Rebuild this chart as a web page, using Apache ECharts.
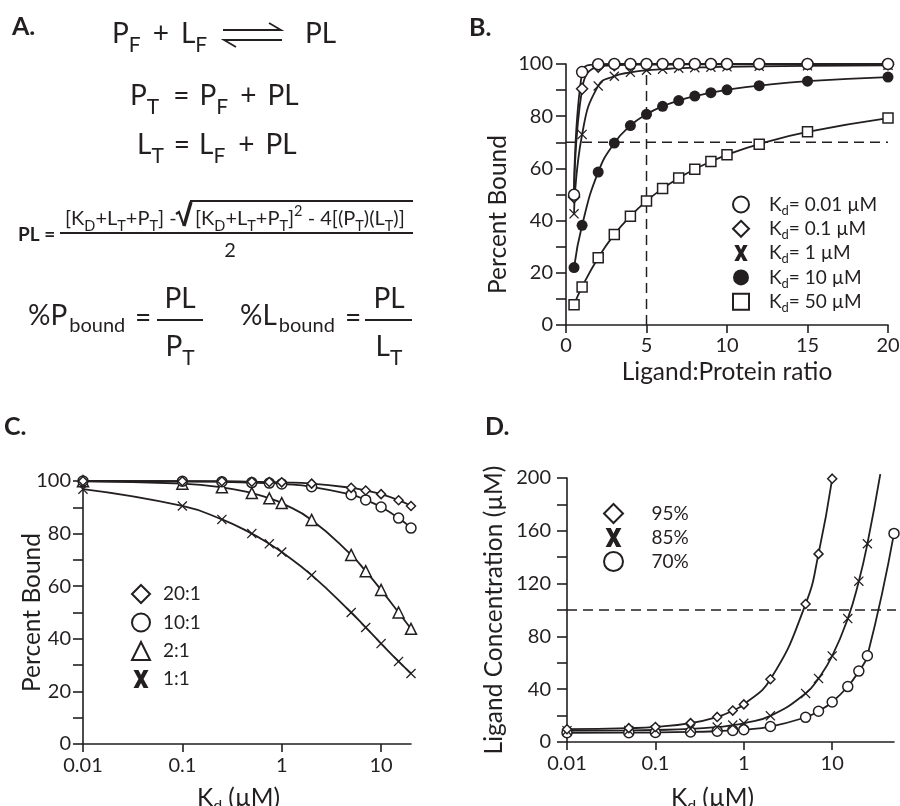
<!DOCTYPE html>
<html>
<head>
<meta charset="utf-8">
<script src="https://cdn.jsdelivr.net/npm/echarts@6/dist/echarts.min.js"></script>
<style>
  html, body { margin: 0; padding: 0; background: #fff; }
  #main { width: 900px; height: 806px; }
</style>
</head>
<body>
<div id="main"></div>
<script>
const FONT = 'Lato';
const INK = '#231f20';

// ---- Panel B: percent protein bound vs ligand:protein ratio ----
const ratioB = [0.5, 1, 2, 3, 4, 5, 6, 7, 8, 9, 10, 12, 15, 20];
const bKd001 = [49.9, 96.9, 99.9, 100, 100, 100, 100, 100, 100, 100, 100, 100, 100, 100];
const bKd01  = [49.0, 90.5, 99.0, 99.5, 99.7, 99.8, 99.8, 99.8, 99.9, 99.9, 99.9, 99.9, 99.9, 99.9];
const bKd1   = [42.6, 73.0, 91.6, 95.3, 96.8, 97.6, 98.0, 98.4, 98.6, 98.8, 98.9, 99.1, 99.3, 99.5];
const bKd10  = [22.0, 38.2, 58.6, 69.7, 76.4, 80.7, 83.8, 86.0, 87.7, 89.0, 90.1, 91.7, 93.4, 95.0];
const bKd50  = [7.8, 14.6, 25.8, 34.7, 41.7, 47.5, 52.3, 56.3, 59.7, 62.6, 65.2, 69.3, 74.0, 79.3];
const bGuideH = [[0, 70], [20, 70]];
const bGuideV = [[5, 0], [5, 97.5]];
const bXTicks = [0, 5, 10, 15, 20];
const bYTicks = [0, 10, 20, 30, 40, 50, 60, 70, 80, 90, 100];
const bYLabels = [0, 20, 40, 60, 80, 100];

// ---- Panel C: percent protein bound vs Kd at several L:P ratios ----
const kdC = [0.01, 0.1, 0.25, 0.5, 0.75, 1, 2, 5, 7, 10, 15, 20];
const c20to1 = [100, 99.9, 99.9, 99.7, 99.6, 99.5, 99.0, 97.4, 96.4, 95.0, 92.7, 90.5];
const c10to1 = [100, 99.9, 99.7, 99.4, 99.2, 98.9, 97.8, 94.8, 92.8, 90.1, 85.9, 82.1];
const c2to1  = [99.9, 99.0, 97.6, 95.4, 93.4, 91.6, 85.2, 71.9, 65.7, 58.6, 50.0, 43.8];
const c1to1  = [96.9, 90.5, 85.4, 80.0, 76.1, 73.0, 64.2, 50.0, 44.3, 38.2, 31.4, 26.8];
const cYTicks = [0, 10, 20, 30, 40, 50, 60, 70, 80, 90, 100];
const cYLabels = [0, 20, 40, 60, 80, 100];

// ---- Panel D: ligand concentration needed for a given fraction bound ----
const kdD95 = [0.01, 0.05, 0.1, 0.25, 0.5, 0.75, 1, 2, 5, 7, 10];
const d95   = [9.7, 10.5, 11.4, 14.3, 19.0, 23.8, 28.5, 47.5, 104.5, 142.5, 199.5];
const kdD85 = [0.01, 0.05, 0.1, 0.25, 0.5, 0.75, 1, 2, 5, 7, 10, 15, 20, 25, 35];
const d85   = [8.6, 8.8, 9.1, 9.9, 11.3, 12.8, 14.2, 19.8, 36.8, 48.2, 65.2, 93.5, 121.8, 150.2, 203];
const kdD70 = [0.01, 0.05, 0.1, 0.25, 0.5, 0.75, 1, 2, 5, 7, 10, 15, 20, 25, 50];
const d70   = [7.0, 7.1, 7.2, 7.6, 8.2, 8.8, 9.3, 11.7, 18.7, 23.3, 30.3, 42.0, 53.7, 65.3, 158];
const dGuide = [[0.01, 100], [60, 100]];
const dYTicks = [0, 20, 40, 60, 80, 100, 120, 140, 160, 180, 200];
const dYLabels = [0, 40, 80, 120, 160, 200];

const kdDecades = [0.01, 0.1, 1, 10];

// marker shapes
const SYM_X = 'path://M0,0.9 L0.9,0 L5,4.1 L9.1,0 L10,0.9 L5.9,5 L10,9.1 L9.1,10 L5,5.9 L0.9,10 L0,9.1 L4.1,5 Z';
const SYM_XBOLD = 'path://M0,0 H3.3 L5,3.4 L6.7,0 H10 L6.7,6 L10,12 H6.7 L5,8.6 L3.3,12 H0 L3.3,6 Z';
const SYM_DIAMOND = 'path://M5,0 L10,5 L5,10 L0,5 Z';

const pairs = (xs, ys) => xs.map((x, i) => [x, ys[i]]);

const openStyle = { color: '#fff', borderColor: INK, borderWidth: 1.5 };
const solidStyle = { color: INK, borderColor: INK, borderWidth: 0 };

function curve(name, xi, xs, ys, symbol, size, style, extra) {
  return Object.assign({
    name, type: 'line', xAxisIndex: xi, yAxisIndex: xi,
    data: pairs(xs, ys),
    symbol, symbolSize: size, showAllSymbol: true,
    smooth: 0.5,
    lineStyle: { color: INK, width: 1.8 },
    itemStyle: style,
    emphasis: { disabled: true },
    animation: false, z: 3
  }, extra || {});
}

function guide(xi, data) {
  return {
    type: 'line', xAxisIndex: xi, yAxisIndex: xi, data,
    symbol: 'none', silent: true, clip: false,
    lineStyle: { color: INK, width: 1.5, type: [10, 6] },
    animation: false, z: 1
  };
}

const labelFont = { color: INK, fontFamily: FONT, fontSize: 20 };
const nameFont = { color: INK, fontFamily: FONT, fontSize: 24.5 };
const kdName = '{t|K}{s|d}{t| (µM)}';
const kdRich = {
  t: { fontFamily: FONT, fontSize: 24.5, color: INK },
  s: { fontFamily: FONT, fontSize: 16, color: INK, padding: [16, 0, 0, 0] }
};

function axisBase() {
  return {
    axisLine: { onZero: false, lineStyle: { color: INK, width: 1.6 } },
    splitLine: { show: false },
    nameLocation: 'middle',
    nameMoveOverlap: false
  };
}

function logX(grid, max, gap, pad, margin) {
  return Object.assign(axisBase(), {
    gridIndex: grid, type: 'log', logBase: 10, min: 0.01, max,
    axisTick: { length: 8, customValues: kdDecades, lineStyle: { color: INK, width: 1.6 } },
    axisLabel: Object.assign({ margin, customValues: kdDecades, formatter: v => String(Number(v.toPrecision(6))) }, labelFont),
    name: kdName, nameGap: gap,
    nameTextStyle: { rich: kdRich, padding: [0, pad, 0, 0] }
  });
}

function valY(grid, max, ticks, labels, name, gap, pad, margin) {
  return Object.assign(axisBase(), {
    gridIndex: grid, type: 'value', min: 0, max,
    axisTick: { length: 10, customValues: ticks, lineStyle: { color: INK, width: 1.6 } },
    axisLabel: Object.assign({ margin, customValues: labels }, labelFont),
    name, nameGap: gap,
    nameTextStyle: Object.assign({ padding: [0, pad, 0, 0] }, nameFont)
  });
}

const legendText = { color: INK, fontFamily: FONT, fontSize: 19 };

const option = {
  backgroundColor: '#fff',
  animation: false,
  grid: [
    { left: 566, top: 64, width: 322, height: 261, outerBoundsMode: 'none' },
    { left: 83, top: 481, width: 328, height: 263, outerBoundsMode: 'none' },
    { left: 567, top: 478, width: 327, height: 264, outerBoundsMode: 'none' }
  ],
  xAxis: [
    Object.assign(axisBase(), {
      gridIndex: 0, type: 'value', min: 0, max: 20, interval: 5,
      axisTick: { length: 8, customValues: bXTicks, lineStyle: { color: INK, width: 1.6 } },
      axisLabel: Object.assign({ margin: 11, customValues: bXTicks }, labelFont),
      name: 'Ligand:Protein ratio', nameGap: 35, nameTextStyle: nameFont
    }),
    logX(1, 20, 38, 17, 12),
    logX(2, 50, 40, 36, 12)
  ],
  yAxis: [
    valY(0, 100, bYTicks, bYLabels, 'Percent Bound', 55, 40, 13),
    valY(1, 100, cYTicks, cYLabels, 'Percent Bound', 38, 0, 12),
    valY(2, 200, dYTicks, dYLabels, 'Ligand Concentration (µM)', 60, 0, 16)
  ],
  legend: [
    {
      orient: 'vertical', left: 727, top: 190, itemGap: 2.3, itemWidth: 16, itemHeight: 16,
      selectedMode: false,
      data: [
        { name: '0.01 µM', icon: 'circle' },
        { name: '0.1 µM', icon: SYM_DIAMOND },
        { name: '1 µM', icon: SYM_XBOLD },
        { name: '10 µM', icon: 'circle' },
        { name: '50 µM', icon: 'rect' }
      ],
      formatter: n => '{g|}{t|K}{s|d}{t|= ' + n + '}',
      textStyle: {
        rich: {
          g: { width: 15 },
          t: legendText,
          s: { color: INK, fontFamily: FONT, fontSize: 13, padding: [12, 0, 0, 0] }
        }
      }
    },
    {
      orient: 'vertical', left: 126, top: 579, itemGap: 8.5, itemWidth: 18, itemHeight: 18,
      selectedMode: false,
      data: [
        { name: '20:1', icon: SYM_DIAMOND },
        { name: '10:1', icon: 'circle' },
        { name: '2:1', icon: 'triangle' },
        { name: '1:1', icon: SYM_XBOLD }
      ],
      formatter: n => '{g|}{t|' + n + '}',
      textStyle: { rich: { g: { width: 8 }, t: legendText } }
    },
    {
      orient: 'vertical', left: 598, top: 498, itemGap: 4, itemWidth: 20, itemHeight: 19,
      selectedMode: false,
      data: [
        { name: '95%', icon: SYM_DIAMOND },
        { name: '85%', icon: SYM_XBOLD },
        { name: '70%', icon: 'circle' }
      ],
      formatter: n => '{g|}{t|' + n + '}',
      textStyle: { rich: { g: { width: 23 }, t: legendText } }
    }
  ],
  series: [
    guide(0, bGuideH),
    guide(0, bGuideV),
    curve('50 µM', 0, ratioB, bKd50, 'rect', 10, openStyle),
    curve('10 µM', 0, ratioB, bKd10, 'circle', 11, solidStyle),
    curve('1 µM', 0, ratioB, bKd1, SYM_X, 10, solidStyle),
    curve('0.1 µM', 0, ratioB, bKd01, SYM_DIAMOND, 11, openStyle),
    curve('0.01 µM', 0, ratioB, bKd001, 'circle', 11, openStyle),

    curve('1:1', 1, kdC, c1to1, SYM_X, 10, solidStyle),
    curve('2:1', 1, kdC, c2to1, 'triangle', 11, openStyle),
    curve('10:1', 1, kdC, c10to1, 'circle', 10, openStyle),
    curve('20:1', 1, kdC, c20to1, SYM_DIAMOND, 9, openStyle),

    guide(2, dGuide),
    curve('70%', 2, kdD70, d70, 'circle', 10, openStyle),
    curve('85%', 2, kdD85, d85, SYM_X, 10, solidStyle, { clip: false }),
    curve('95%', 2, kdD95, d95, SYM_DIAMOND, 9, openStyle)
  ],
  graphic: []
};

// the off-scale point of the 85% curve carries the line only
option.series[13].data[kdD85.length - 1] = { value: [kdD85[kdD85.length - 1], d85[d85.length - 1]], symbol: 'none' };

// ---- Panel A: binding scheme and equations ----
const eqMain = 28, eqSub = 21;
const R = {
  m: { fontFamily: FONT, fontSize: eqMain, color: INK },
  s: { fontFamily: FONT, fontSize: eqSub, color: INK, padding: [22, 0, 0, 0] },
  b: { fontFamily: FONT, fontSize: 20, color: INK, padding: [20, 0, 0, 2] },
  n: { fontFamily: FONT, fontSize: 20, color: INK },
  ns: { fontFamily: FONT, fontSize: 14.5, color: INK, padding: [15, 0, 0, 0] },
  sup: { fontFamily: FONT, fontSize: 14.5, color: INK, padding: [0, 0, 15, 0] },
  w9: { width: 9 }, w10: { width: 10 }, w11: { width: 11 }, w12: { width: 12 },
  w13: { width: 13 }, w14: { width: 14 }
};

function txt(x, y, text, align, extra) {
  return {
    type: 'text', x, y, silent: true,
    style: Object.assign({
      text, rich: R, fill: INK,
      font: eqMain + 'px ' + FONT,
      textAlign: align || 'left', textVerticalAlign: 'middle'
    }, extra || {})
  };
}
function seg(points, w) {
  return { type: 'polyline', silent: true, shape: { points }, style: { stroke: INK, lineWidth: w || 2, fill: null, lineJoin: 'miter' } };
}

const panelLabel = (x, y, t) => ({
  type: 'text', x, y, silent: true,
  style: { text: t, font: 'bold 25px ' + FONT, fill: INK, textVerticalAlign: 'middle' }
});

option.graphic = [
  panelLabel(12, 27, 'A.'),
  panelLabel(469, 28, 'B.'),
  panelLabel(4, 427, 'C.'),
  panelLabel(485, 427, 'D.'),

  txt(112, 34, '{m|P}{s|F}{w12|}{m|+}{w12|}{m|L}{s|F}'),
  seg([[223, 30], [281, 30], [269, 23]], 1.8),
  seg([[236, 47], [224, 40], [282, 40]], 1.8),
  txt(305, 34, '{m|PL}'),
  txt(130, 96, '{m|P}{s|T}{w14|}{m|=}{w10|}{m|P}{s|F}{w12|}{m|+}{w11|}{m|PL}'),
  txt(137, 145, '{m|L}{s|T}{w10|}{m|=}{w9|}{m|L}{s|F}{w13|}{m|+}{w11|}{m|PL}'),

  txt(18, 235, 'PL =', 'left', { font: 'bold 19px ' + FONT, rich: null }),
  txt(65, 219, '{n|[K}{ns|D}{n|+L}{ns|T}{n|+P}{ns|T}{n|] -}'),
  seg([[176, 214], [179, 212], [184, 226]], 2.2),
  seg([[184, 226], [191, 202]], 3.4),
  seg([[190, 201], [413, 201]], 1.8),
  txt(195, 219, '{n|[K}{ns|D}{n|+L}{ns|T}{n|+P}{ns|T}{n|]}{sup|2}{n| - 4[(P}{ns|T}{n|)(L}{ns|T}{n|)]}'),
  seg([[60, 233], [413, 233]], 2),
  txt(230, 251, '{n|2}', 'center'),

  txt(28, 316, '{m|%P}{b|bound}'),
  txt(135, 318, '{m|=}'),
  txt(180, 299, '{m|PL}', 'center'),
  seg([[157, 320], [203, 320]], 2),
  txt(180, 347, '{m|P}{s|T}', 'center'),

  txt(240, 316, '{m|%L}{b|bound}'),
  txt(345, 318, '{m|=}'),
  txt(389, 299, '{m|PL}', 'center'),
  seg([[365, 320], [412, 320]], 2),
  txt(389, 347, '{m|L}{s|T}', 'center')
];

const chart = echarts.init(document.getElementById('main'));
chart.setOption(option);
</script>
</body>
</html>
